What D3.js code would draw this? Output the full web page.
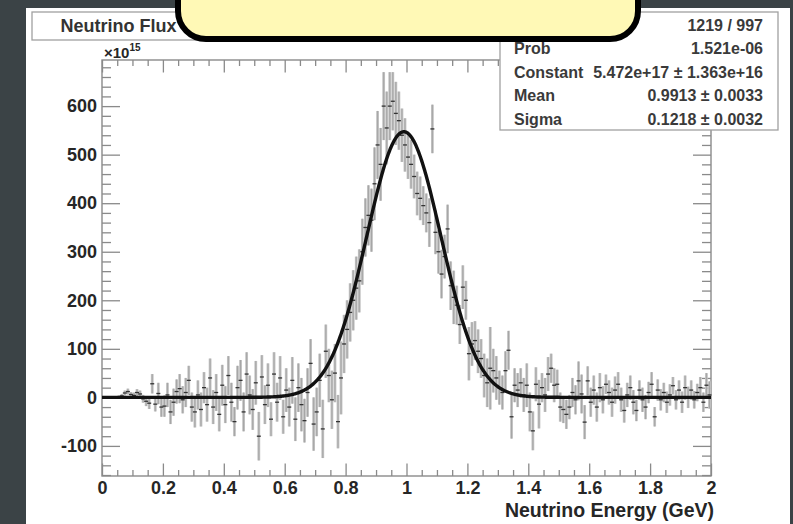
<!DOCTYPE html>
<html><head><meta charset="utf-8">
<script src="https://cdn.jsdelivr.net/npm/d3@7"></script>
<style>
html,body{margin:0;padding:0;background:#3b4346;}
svg{display:block;}
text{font-family:"Liberation Sans",Arial,Helvetica,sans-serif;}
</style></head><body>
<svg id="chart" width="793" height="524"></svg>
<script>
// Histogram binning (GeV)
const binLow = 0;
const binWidth = 0.01;

// Bin contents in units of 10^15 (null = empty bin)
const flux = [
  null, null, null, null, null, 1, 3, 9, 12, 6,
  4, 10, 7, -3, -8, -12, 28, -14, 8, -20,
  -18, 5, -30, -10, 12, 18, -5, 10, 35, -20,
  -30, 5, -25, 20, -15, 40, -20, 10, -35, 25,
  -15, 45, -10, -50, 20, 35, -30, 48, 5, -25,
  30, -80, 42, -15, 25, -45, 48, -10, 40, -40,
  15, -20, 35, -45, 20, -15, -48, 10, 70, -55,
  -30, 35, -65, 95, 45, -5, 50, -50, 40, 110,
  140, 175, 200, 225, 240, 300, 350, 375, 365, 440,
  520, 480, 600, 555, 600, 610, 585, 570, 540, 520,
  495, 480, 455, 420, 410, 395, 380, 360, 553, 340,
  300, 254, 290, 347, 230, 206, 190, 150, 227, 200,
  90, 110, 117, 95, 80, 45, 30, 60, 55, 40,
  20, 10, 55, 97, -40, 25, 15, 30, 5, 25,
  -30, -69, 27, -14, 20, 5, 48, 60, 25, 27,
  -20, -25, -35, -20, 10, -5, 34, 7, -51, 34,
  -10, 15, -20, 20, -5, 27, 10, -10, 15, 27,
  -5, -27, 5, 20, -10, -27, 15, -5, -20, 10,
  27, -40, 15, -5, 10, -10, 5, 24, -5, 15,
  -10, 20, 0, 15, -5, 10, 20, -10, 25, 5
];

// Bin errors in units of 10^15
const fluxErr = [
  0, 0, 0, 0, 0, 3, 4, 5, 6, 5,
  6, 7, 7, 8, 10, 12, 20, 15, 22, 20,
  22, 25, 25, 28, 25, 30, 28, 30, 30, 30,
  32, 30, 35, 32, 35, 40, 35, 38, 35, 42,
  38, 40, 40, 30, 45, 42, 40, 45, 40, 42,
  45, 50, 45, 40, 45, 35, 45, 40, 45, 35,
  45, 40, 48, 45, 50, 55, 45, 50, 50, 55,
  50, 55, 60, 55, 55, 60, 60, 55, 75, 60,
  60, 60, 62, 65, 65, 68, 60, 62, 65, 75,
  70, 75, 70, 75, 70, 60, 65, 60, 55, 55,
  45, 50, 45, 45, 45, 40, 40, 50, 50, 45,
  45, 50, 45, 50, 50, 55, 40, 40, 45, 40,
  55, 45, 40, 45, 40, 45, 50, 85, 45, 45,
  35, 35, 40, 40, 45, 35, 35, 30, 35, 45,
  40, 40, 35, 50, 30, 35, 35, 30, 35, 30,
  30, 28, 30, 25, 30, 30, 40, 40, 35, 30,
  30, 30, 30, 30, 28, 20, 25, 30, 28, 25,
  25, 25, 25, 25, 25, 22, 20, 25, 25, 22,
  25, 20, 22, 22, 20, 22, 22, 18, 20, 20,
  22, 25, 22, 20, 18, 18, 22, 20, 25, 28
];

// Gaussian fit parameters (Constant in units of 10^15)
const fitConstant = 547.2;
const fitMean = 0.9913;
const fitSigma = 0.1218;

// Tick labels
const xTickLabels = ["0", "0.2", "0.4", "0.6", "0.8", "1", "1.2", "1.4", "1.6", "1.8", "2"];
const yTickLabels = ["-100", "0", "100", "200", "300", "400", "500", "600"];

// Fit statistics panel
const statsLabels = ["\u03c7\u00b2 / ndf", "Prob", "Constant", "Mean", "Sigma"];
const statsValues = ["1219 / 997", "1.521e-06", "5.472e+17 \u00b1 1.363e+16", "0.9913 \u00b1 0.0033", "0.1218 \u00b1 0.0032"];

const svg = d3.select("#chart");
const W = 793, H = 524;

// canvas pad
svg.append("rect").attr("x", 0).attr("y", 0).attr("width", W).attr("height", H).attr("fill", "#3b4346");
svg.append("rect").attr("x", 26).attr("y", 8).attr("width", 764).attr("height", H - 8).attr("fill", "#ffffff");

const frame = {left: 102, right: 711, top: 60, bottom: 476};
const x = d3.scaleLinear().domain([0, 2]).range([frame.left, frame.right]);
const y = d3.scaleLinear().domain([-162, 695]).range([frame.bottom, frame.top]);

const axisColor = "#8a8a8a";
const labelColor = "#262626";

const xMajor = xTickLabels.map(Number);
const xMinor = d3.range(0, 41).map(i => i * 0.05).filter(v => Math.abs(v / 0.2 - Math.round(v / 0.2)) > 1e-6);
const yMajor = yTickLabels.map(Number);
const yMinor = d3.range(-160, 695, 20).filter(v => v % 100 !== 0);

function styleAxis(g) {
  g.select(".domain").remove();
  g.selectAll(".tick line").attr("stroke", axisColor).attr("stroke-width", 1.3);
}

// bottom axis (labels) and top axis
svg.append("g").attr("transform", `translate(0,${frame.bottom})`)
  .call(d3.axisBottom(x).tickValues(xMinor).tickSizeInner(-6).tickSizeOuter(0).tickFormat(""))
  .call(styleAxis);
svg.append("g").attr("transform", `translate(0,${frame.bottom})`)
  .call(d3.axisBottom(x).tickValues(xMajor).tickSizeInner(-12.5).tickSizeOuter(0).tickPadding(5)
        .tickFormat((d, i) => xTickLabels[i]))
  .call(styleAxis)
  .call(g => g.selectAll("text").attr("fill", labelColor).attr("font-size", 18).attr("font-weight", "bold"));
svg.append("g").attr("transform", `translate(0,${frame.top})`)
  .call(d3.axisTop(x).tickValues(xMinor).tickSizeInner(-6).tickSizeOuter(0).tickFormat(""))
  .call(styleAxis);
svg.append("g").attr("transform", `translate(0,${frame.top})`)
  .call(d3.axisTop(x).tickValues(xMajor).tickSizeInner(-12.5).tickSizeOuter(0).tickFormat(""))
  .call(styleAxis);

// left axis (labels) and right axis
svg.append("g").attr("transform", `translate(${frame.left},0)`)
  .call(d3.axisLeft(y).tickValues(yMinor).tickSizeInner(-9).tickSizeOuter(0).tickFormat(""))
  .call(styleAxis);
svg.append("g").attr("transform", `translate(${frame.left},0)`)
  .call(d3.axisLeft(y).tickValues(yMajor).tickSizeInner(-18).tickSizeOuter(0).tickPadding(5)
        .tickFormat((d, i) => yTickLabels[i]))
  .call(styleAxis)
  .call(g => g.selectAll("text").attr("fill", labelColor).attr("font-size", 18).attr("font-weight", "bold"));
svg.append("g").attr("transform", `translate(${frame.right},0)`)
  .call(d3.axisRight(y).tickValues(yMinor).tickSizeInner(-9).tickSizeOuter(0).tickFormat(""))
  .call(styleAxis);
svg.append("g").attr("transform", `translate(${frame.right},0)`)
  .call(d3.axisRight(y).tickValues(yMajor).tickSizeInner(-18).tickSizeOuter(0).tickFormat(""))
  .call(styleAxis);

// frame
svg.append("rect")
  .attr("x", frame.left).attr("y", frame.top)
  .attr("width", frame.right - frame.left).attr("height", frame.bottom - frame.top)
  .attr("fill", "none").attr("stroke", axisColor).attr("stroke-width", 1.4);

// exponent label
const expo = svg.append("text").attr("x", 104).attr("y", 58)
  .attr("fill", labelColor).attr("font-size", 15).attr("font-weight", "bold");
expo.append("tspan").text("\u00d710");
expo.append("tspan").attr("dy", -7).attr("font-size", 10).text("15");

// x-axis title
svg.append("text").attr("x", 714).attr("y", 517).attr("text-anchor", "end")
  .attr("fill", labelColor).attr("font-size", 19.5).attr("font-weight", "bold")
  .text("Neutrino Energy (GeV)");

// histogram bins with error bars
const bins = flux.map((v, i) => ({c: binLow + (i + 0.5) * binWidth, v: v, e: fluxErr[i]}))
  .filter(d => d.v !== null);

const gHist = svg.append("g");
gHist.selectAll("line.err").data(bins).join("line")
  .attr("class", "err")
  .attr("x1", d => x(d.c)).attr("x2", d => x(d.c))
  .attr("y1", d => y(d.v - d.e)).attr("y2", d => y(d.v + d.e))
  .attr("stroke", "#c2c2c2").attr("stroke-width", 2.8);
gHist.selectAll("line.core").data(bins).join("line")
  .attr("class", "core")
  .attr("x1", d => x(d.c)).attr("x2", d => x(d.c))
  .attr("y1", d => y(d.v - d.e)).attr("y2", d => y(d.v + d.e))
  .attr("stroke", "#9a9a9a").attr("stroke-width", 0.7);
gHist.selectAll("line.mark").data(bins).join("line")
  .attr("class", "mark")
  .attr("x1", d => x(d.c) - 2).attr("x2", d => x(d.c) + 2)
  .attr("y1", d => y(d.v)).attr("y2", d => y(d.v))
  .attr("stroke", "#333").attr("stroke-width", 1.3);

// gaussian fit curve
const gauss = t => fitConstant * Math.exp(-0.5 * Math.pow((t - fitMean) / fitSigma, 2));
const curveX = d3.range(0, 2.0001, 0.002);
svg.append("path")
  .datum(curveX)
  .attr("d", d3.line().x(t => x(t)).y(t => y(gauss(t))).curve(d3.curveLinear))
  .attr("fill", "none").attr("stroke", "#111").attr("stroke-width", 3.4)
  .attr("stroke-linejoin", "round");

// title box
svg.append("rect").attr("x", 32).attr("y", 12).attr("width", 173).attr("height", 28)
  .attr("fill", "#fff").attr("stroke", "#a0a0a0").attr("stroke-width", 1.3);
svg.append("text").attr("x", 118.5).attr("y", 32).attr("text-anchor", "middle")
  .attr("fill", "#333").attr("font-size", 18).attr("font-weight", "bold")
  .text("Neutrino Flux");

// statistics box
svg.append("rect").attr("x", 500).attr("y", 12).attr("width", 278).attr("height", 118)
  .attr("fill", "#fff").attr("stroke", "#a0a0a0").attr("stroke-width", 1.3);
const rowY = d3.scaleLinear().domain([0, 4]).range([25, 119]);
const gStats = svg.append("g").attr("font-size", 16).attr("font-weight", "bold").attr("fill", "#3a3a3a");
gStats.selectAll("text.lab").data(statsLabels).join("text")
  .attr("class", "lab").attr("x", 514).attr("y", (d, i) => rowY(i) + 5.5).text(d => d);
gStats.selectAll("text.val").data(statsValues).join("text")
  .attr("class", "val").attr("x", 763).attr("y", (d, i) => rowY(i) + 5.5)
  .attr("text-anchor", "end").text(d => d);

// callout panel over the top of the canvas
svg.append("rect").attr("x", 178).attr("y", -60).attr("width", 460).attr("height", 99)
  .attr("rx", 28).attr("ry", 28)
  .attr("fill", "#fff9b6").attr("stroke", "#000").attr("stroke-width", 6);
</script>
</body></html>
